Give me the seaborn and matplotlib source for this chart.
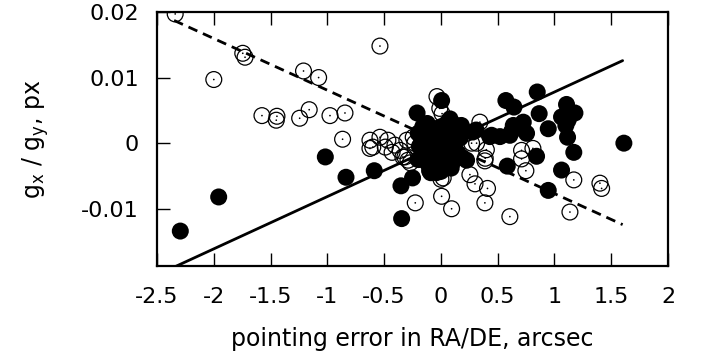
import matplotlib
matplotlib.use("Agg")
import matplotlib.pyplot as plt
import seaborn as sns
import pandas as pd
import numpy as np

# filled circles: g_x against pointing error in RA
ra_err = [-2.295, -1.957, -1.018, -0.836, -0.587, -0.352, -0.25, -0.346,
          0.848, 0.572, 0.643, 0.865, 1.106, 1.18, 1.062, 1.12, 0.945, 0.637,
          0.725, 0.754, 0.607, 0.52, 1.115, 1.611, 1.17, 0.842, 0.584, 1.062,
          0.945, 1.10, -0.21, -0.12, 0.006, 0.08, 0.18, 0.28, 0.446, 0.31,
          0.43, 0.62, 0.226,
          -0.17, -0.15, -0.14, -0.12, -0.1, -0.1, -0.08, -0.06, -0.05, -0.03,
          0.0, 0.0, 0.02, 0.03, 0.06, 0.08, 0.1, 0.1, 0.14, 0.15, -0.2, 0.05,
          -0.04, 0.12,
          -0.19, -0.16, -0.13, -0.11, -0.08, -0.07, -0.04, -0.02, 0.01, 0.03,
          0.05, 0.07, 0.09, 0.11, 0.13, 0.17, 0.19, -0.09, 0.0, -0.2]
g_x = [-0.0134, -0.0082, -0.0021, -0.0052, -0.0042, -0.0065, -0.0053, -0.0115,
       0.0078, 0.0065, 0.0055, 0.0045, 0.0059, 0.0046, 0.0040, 0.0035, 0.0022,
       0.0027, 0.0032, 0.0015, 0.0012, 0.0010, 0.0009, 0.0000, -0.0014,
       -0.0020, -0.0035, -0.0041, -0.0072, 0.0027, 0.0046, 0.0030, 0.0065,
       0.0037, 0.0027, 0.0017, 0.0012, 0.0020, 0.0010, 0.0017, -0.0026,
       0.0005, -0.0015, 0.0018, -0.0030, 0.0008, -0.0042, -0.0018, 0.0022,
       -0.0035, 0.0000, 0.0025, -0.0020, 0.0010, -0.0038, 0.0018, -0.0010,
       0.0005, -0.0030, 0.0015, -0.0015, -0.0025, 0.0030, -0.0045, 0.0028,
       -0.0005, 0.0025, 0.0000, -0.0028, 0.0015, -0.0035, 0.0012, -0.0028,
       -0.0008, 0.0022, -0.0025, 0.0008, -0.0038, -0.0018, 0.0004, 0.0008,
       -0.0022, -0.0045, -0.0043, 0.0015]

# open circles: g_y against pointing error in DE
de_err = [-2.34, -1.745, -1.725, -2.0, -1.21, -1.077, -1.576, -1.444, -1.45,
          -1.244, -1.16, -0.977, -0.845, -0.866, -0.537, -0.226, 0.006, 0.094,
          0.0, 0.255, 0.30, 0.41, 0.387, 0.387, 0.607, 0.71, 0.81, 0.71, 0.748,
          1.17, 1.40, 1.415, 1.136, -0.625, -0.537, -0.467, -0.405, -0.30,
          -0.23, -0.60, -0.43, -0.335, -0.27, -0.625, -0.49, -0.36, -0.317,
          -0.244, -0.29, -0.035, -0.01, 0.01, 0.343, 0.314, 0.40, 0.39, 0.27,
          0.226, 0.02, -0.1, 0.05, 0.1, -0.05]
g_y = [0.0197, 0.0137, 0.0131, 0.0097, 0.0110, 0.0100, 0.0042, 0.0041, 0.0035,
       0.0038, 0.0051, 0.0042, 0.0046, 0.0006, 0.0148, -0.0091, -0.0081,
       -0.0100, -0.0055, -0.0048, -0.0062, -0.0069, -0.0091, -0.0027, -0.0112,
       -0.0011, -0.0008, -0.0024, -0.0042, -0.0056, -0.0061, -0.0069, -0.0105,
       0.00045, 0.0009, 0.00045, -0.0003, 0.00045, 0.0000, -0.0006, -0.0014,
       -0.0021, -0.0030, -0.0008, -0.0006, -0.0011, -0.0021, 0.0009, -0.0026,
       0.0071, 0.0053, 0.0045, 0.0032, 0.0000, -0.0010, -0.0023, 0.0000,
       0.0015, -0.0053, 0.0010, -0.0010, 0.0020, -0.0020]

# linear fits (slope, intercept) and the x range they are drawn over
fit_x = [-2.35, 1.6]
fit_ra = (0.00797, -0.00017)
fit_de = (-0.00788, 0.00019)

x_ticks = [-2.5, -2, -1.5, -1, -0.5, 0, 0.5, 1, 1.5, 2]
x_tick_labels = ['-2.5', '-2', '-1.5', '-1', '-0.5', '0', '0.5', '1', '1.5', '2']
y_ticks = [-0.01, 0, 0.01, 0.02]
y_tick_labels = ['-0.01', '0', '0.01', '0.02']

df_ra = pd.DataFrame({'err': ra_err, 'g': g_x})
df_de = pd.DataFrame({'err': de_err, 'g': g_y})

sns.set_theme(style="ticks")
plt.rcParams['font.family'] = ['DejaVu Sans']
plt.rcParams['text.color'] = 'black'
plt.rcParams['axes.labelcolor'] = 'black'
plt.rcParams['xtick.color'] = 'black'
plt.rcParams['ytick.color'] = 'black'

fig = plt.figure(figsize=(7.01, 3.58), dpi=100)
ax = fig.add_axes([0.224, 0.2556, 0.729, 0.711])

# open circles first, filled ones drawn over them
sns.scatterplot(data=df_de, x='err', y='g', ax=ax, marker='o', s=130,
                facecolor='none', edgecolor='black', linewidth=0.9)
sns.scatterplot(data=df_de, x='err', y='g', ax=ax, marker='o', s=1.5,
                color='black', edgecolor='none')
sns.scatterplot(data=df_ra, x='err', y='g', ax=ax, marker='o', s=150,
                color='black', edgecolor='none')

xs = np.array(fit_x)
ax.plot(xs, fit_ra[0] * xs + fit_ra[1], color='black', lw=2.0)
ax.plot(xs, fit_de[0] * xs + fit_de[1], color='black', lw=2.0,
        dashes=(3.5, 2.2))

ax.set_xlim(-2.5, 2)
ax.set_ylim(-0.0188, 0.02)
ax.set_xticks(x_ticks)
ax.set_xticklabels(x_tick_labels)
ax.set_yticks(y_ticks)
ax.set_yticklabels(y_tick_labels)

ax.tick_params(axis='both', direction='in', length=9.5, width=1.0,
               labelsize=16, color='black', labelcolor='black')
ax.tick_params(axis='x', top=True, pad=15)
ax.tick_params(axis='y', right=False, pad=13)
for sp in ax.spines.values():
    sp.set_visible(True)
    sp.set_linewidth(1.6)
    sp.set_color('black')

ax.set_xlabel('pointing error in RA/DE, arcsec', fontsize=17, labelpad=14)
ax.set_ylabel(r'g$_\mathregular{x}$ / g$_\mathregular{y}$, px', fontsize=17,
              labelpad=22)

fig.savefig('out.png', dpi=100)
